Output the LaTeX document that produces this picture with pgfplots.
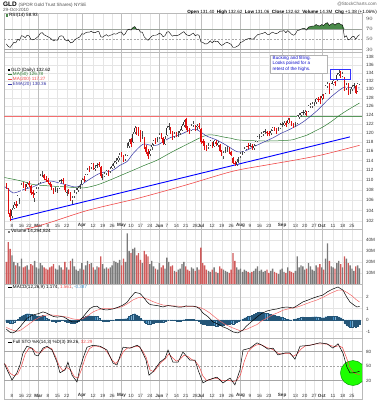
\documentclass[border=0pt]{standalone}
\usepackage{fontspec}
\setmainfont{Liberation Sans}
\usepackage{pgfplots}
\pgfplotsset{compat=1.18}
\usepackage{pgfplotstable}
\definecolor{emab}{HTML}{3535A5}
\definecolor{smag}{HTML}{2E7D32}
\definecolor{smar}{HTML}{F04A4A}
\definecolor{candr}{HTML}{E01010}
\definecolor{volr}{HTML}{D05A5A}
\definecolor{volg}{HTML}{7A7A7A}
\definecolor{histb}{HTML}{3E8FC8}
\definecolor{rsig}{HTML}{4A8A4A}
\definecolor{lbl}{HTML}{333333}
\definecolor{annb}{HTML}{1010CC}
\newcommand{\tf}{\fontsize{4.6}{5.2}\selectfont}

\pgfplotstableread{
t O H L C V Hs R
2 109.0 109.3 108.1 108.43 20 -0.15 41
3 108.2 108.3 103.4 103.75 38 -0.20 36
4 103.6 104.2 101.9 102.68 32 -0.28 34
5 102.9 104.5 102.5 104.04 26 -0.25 39
6 104.5 105.6 104.2 105.12 20 -0.15 44
7 105.3 105.8 104.5 104.92 17 -0.05 43
8 105.2 107.0 104.9 106.77 19 0.08 50
9 106.0 106.5 105.3 106.09 16 0.22 48
10 107.6 109.3 107.5 109.02 23 0.35 57
11 109.2 109.6 108.4 108.80 15 0.42 56
12 108.6 109.1 107.7 108.24 16 0.50 53
13 108.6 109.6 108.3 109.21 17 0.55 58
14 109.4 109.8 108.6 109.02 13 0.55 57
15 108.8 109.0 107.0 107.36 18 0.50 50
16 107.5 108.0 106.5 107.16 17 0.45 49
17 106.4 107.4 105.6 107.00 21 0.45 50
18 107.6 108.5 107.3 108.14 15 0.38 53
19 108.5 109.4 108.1 109.02 14 0.32 56
20 109.5 111.2 109.3 110.87 19 0.35 62
21 110.9 111.8 110.6 111.07 17 0.40 63
22 111.0 111.3 110.0 110.39 15 0.30 59
23 110.2 110.8 109.5 110.00 14 0.20 57
24 110.1 110.5 109.2 109.60 13 0.08 55
25 109.3 109.6 108.6 109.02 15 0.00 53
26 108.8 109.1 107.9 108.43 16 -0.08 50
27 108.0 108.4 107.2 107.75 18 -0.12 47
28 107.9 108.6 107.6 108.14 14 -0.15 49
29 107.8 108.3 107.3 107.95 13 -0.12 48
30 108.3 109.9 108.2 109.60 17 -0.06 55
31 109.7 110.3 109.4 109.90 15 -0.02 57
32 109.9 110.4 109.1 109.70 13 -0.05 56
33 108.9 109.1 107.6 107.95 20 -0.12 49
34 107.4 108.0 106.9 107.56 15 -0.15 47
35 107.7 108.2 107.2 107.65 13 -0.20 48
36 107.4 107.6 105.9 106.29 21 -0.25 43
37 106.0 106.9 105.2 106.48 23 -0.28 44
38 106.8 107.9 106.5 107.46 16 -0.25 48
39 107.5 108.3 107.2 108.04 13 -0.22 51
40 108.0 108.7 107.6 108.34 12 -0.10 53
41 108.5 109.2 108.1 108.73 14 0.00 55
42 109.2 110.4 109.0 110.09 19 0.12 61
43 110.3 110.8 109.5 109.90 13 0.22 60
44 110.0 111.2 109.7 110.97 17 0.30 63
45 111.3 112.5 111.0 112.14 21 0.35 64
46 112.3 112.9 111.7 112.24 18 0.38 64
47 112.6 113.6 112.3 113.22 19 0.36 66
48 113.3 113.6 112.1 112.44 15 0.32 63
49 112.3 113.0 111.8 112.55 13 0.30 63
50 112.8 113.5 112.4 113.02 16 0.30 65
51 113.3 113.8 112.7 113.10 15 0.15 65
52 112.6 112.8 110.4 110.87 25 -0.02 55
53 110.5 111.2 110.0 110.68 18 -0.10 54
54 110.9 111.7 110.6 111.26 14 -0.12 57
55 111.5 112.1 111.1 111.75 15 -0.12 59
56 111.5 112.0 110.9 111.46 14 -0.08 56
57 111.8 112.7 111.5 112.24 15 -0.05 58
58 112.5 113.2 112.2 112.83 17 -0.04 59
59 112.8 114.0 112.5 113.61 21 0.00 61
60 113.7 114.5 113.2 114.00 20 0.04 60
61 114.2 115.0 113.8 114.58 19 0.05 62
62 114.6 115.6 114.2 115.17 22 0.07 64
63 115.4 115.8 114.7 115.27 17 0.10 64
64 114.9 115.2 113.7 114.19 23 0.10 58
65 114.4 115.3 114.0 114.88 20 0.12 61
66 115.2 117.7 114.9 116.73 46 0.18 68
67 117.2 118.6 116.6 117.90 30 0.30 70
68 118.6 118.9 116.9 117.51 28 0.42 68
69 117.9 120.1 117.7 119.76 32 0.50 73
70 120.1 121.6 119.7 121.02 33 0.55 75
71 120.8 121.3 119.5 120.05 26 0.45 69
72 120.4 121.2 119.4 120.34 28 0.35 70
73 120.2 120.6 117.9 119.36 22 0.15 64
74 119.3 120.3 118.7 119.50 19 0.02 64
75 118.7 119.0 116.4 116.83 30 -0.15 55
76 116.8 117.3 115.4 115.85 27 -0.28 51
77 115.8 116.4 114.4 114.88 25 -0.35 48
78 115.4 116.5 115.0 116.05 18 -0.35 52
79 116.8 117.8 116.3 117.41 21 -0.30 56
80 117.6 118.5 117.2 118.10 16 -0.25 58
81 118.3 118.8 117.6 118.19 14 -0.22 58
82 118.4 119.0 117.9 118.58 13 -0.20 59
83 119.0 120.0 118.6 119.56 19 -0.18 62
84 119.6 120.0 118.6 119.07 15 -0.17 60
85 118.8 119.1 117.4 117.80 17 -0.15 55
86 117.6 119.2 117.3 118.58 14 -0.06 57
87 119.6 121.5 119.4 121.12 24 0.00 64
88 121.3 122.1 120.7 121.41 20 0.00 65
89 121.0 121.3 119.7 120.15 16 -0.02 60
90 120.0 120.4 118.5 119.07 17 -0.03 56
91 119.3 120.2 118.9 119.66 12 -0.05 58
92 119.8 120.2 119.0 119.46 11 -0.08 57
93 119.6 120.3 119.1 119.76 13 -0.08 58
94 120.0 120.8 119.6 120.34 14 -0.06 60
95 120.6 122.0 120.3 121.61 18 -0.03 63
96 121.8 122.9 121.4 122.49 20 0.03 65
97 123.0 123.3 120.6 121.02 16 0.05 60
98 121.0 121.5 120.2 120.73 13 0.04 58
99 120.5 121.1 119.8 120.44 12 0.05 57
100 120.7 121.9 120.3 121.51 15 0.04 60
101 121.7 122.6 121.3 122.00 14 0.05 62
102 121.4 121.8 120.5 120.93 12 0.00 57
103 121.2 122.0 120.6 121.51 15 -0.04 59
104 121.6 122.1 120.8 121.41 13 -0.12 58
105 120.8 121.0 117.6 118.00 33 -0.25 45
106 118.2 118.6 117.2 117.80 19 -0.33 44
107 118.0 118.3 116.3 116.83 17 -0.38 41
108 116.9 117.4 116.1 116.63 13 -0.40 41
109 116.9 117.7 116.5 117.22 12 -0.42 43
110 117.4 118.4 117.1 118.10 11 -0.45 47
111 117.6 117.9 116.6 116.92 13 -0.47 43
112 117.2 118.5 117.0 118.10 15 -0.47 47
113 118.0 118.4 117.2 117.61 11 -0.50 45
114 117.4 118.2 116.9 117.70 10 -0.50 46
115 117.4 117.6 115.8 116.14 16 -0.48 41
116 115.9 116.2 114.9 115.27 14 -0.45 38
117 114.9 116.0 114.4 115.66 13 -0.42 40
118 116.2 117.0 115.6 116.34 12 -0.38 43
119 116.4 117.1 115.9 116.63 11 -0.35 44
120 116.4 116.8 115.5 115.95 10 -0.33 42
121 115.8 116.1 114.9 115.27 13 -0.30 40
122 114.6 114.8 113.2 113.51 28 -0.32 34
123 113.6 114.0 112.8 113.31 21 -0.30 34
124 113.2 114.3 112.9 113.70 15 -0.22 36
125 114.0 114.7 113.5 114.19 13 -0.12 38
126 114.9 115.8 114.6 115.46 14 0.00 44
127 115.6 116.1 115.1 115.66 11 0.08 45
128 115.9 116.8 115.6 116.44 13 0.18 48
129 116.5 117.2 116.2 116.83 12 0.25 50
130 117.1 117.8 116.4 117.02 11 0.32 51
131 117.2 117.8 116.8 117.41 10 0.36 52
132 117.1 117.6 116.2 116.92 11 0.42 50
133 116.6 117.5 116.3 117.12 12 0.50 51
134 117.4 118.3 117.1 118.00 14 0.60 55
135 118.2 119.4 118.0 119.07 16 0.65 59
136 119.1 119.7 118.7 119.27 12 0.67 60
137 119.4 120.1 119.0 119.66 13 0.65 61
138 119.7 120.5 119.4 120.05 11 0.62 62
139 120.2 120.9 119.8 120.44 12 0.60 64
140 120.2 120.5 119.3 119.85 13 0.58 60
141 119.9 120.3 119.2 119.66 10 0.52 59
142 119.9 120.8 119.6 120.34 12 0.48 62
143 120.7 121.4 120.3 121.02 14 0.45 64
144 121.0 121.4 120.3 120.73 11 0.40 62
145 120.6 121.1 119.8 120.54 10 0.36 61
146 120.8 121.4 120.4 121.02 9 0.32 63
147 121.1 122.1 120.8 121.80 13 0.28 66
148 121.9 122.5 121.4 122.00 14 0.22 66
149 121.8 122.6 121.5 122.29 11 0.15 67
150 122.3 122.7 121.3 121.71 10 0.08 63
151 122.3 123.3 122.0 122.98 15 0.05 67
152 122.9 123.3 122.1 122.58 12 0.02 64
153 122.4 122.7 121.5 121.90 11 0.00 60
154 121.8 122.2 121.1 121.61 10 0.05 58
155 121.8 122.4 121.4 121.90 12 0.10 60
156 122.1 124.0 121.9 123.76 25 0.13 67
157 123.6 124.4 123.2 123.90 15 0.18 68
158 124.0 124.8 123.6 124.44 17 0.22 70
159 124.5 125.1 124.0 124.64 16 0.27 71
160 124.4 125.2 124.0 124.73 13 0.25 71
161 124.8 125.0 123.7 124.34 14 0.22 68
162 125.0 126.3 124.8 126.00 19 0.25 74
163 126.0 126.8 125.6 126.29 16 0.25 75
164 126.1 126.9 125.7 126.49 13 0.27 76
165 126.5 127.1 126.1 126.68 12 0.28 76
166 126.9 128.0 126.6 127.66 17 0.28 79
167 127.8 128.1 127.0 127.50 15 0.26 77
168 127.7 128.5 126.6 127.56 18 0.22 76
169 127.9 128.8 127.6 128.44 15 0.20 79
170 128.5 128.9 127.7 128.20 13 0.20 77
171 129.1 131.0 129.0 130.78 23 0.28 81
172 130.9 131.9 130.4 131.37 37 0.33 82.5
173 131.3 131.6 129.0 130.10 21 0.32 77
174 130.2 131.5 129.8 131.27 16 0.32 80
175 131.4 132.2 131.0 131.96 15 0.33 81
176 131.8 132.1 130.9 131.47 14 0.30 78
177 132.2 134.0 132.0 133.61 19 0.30 81
178 133.8 135.0 133.2 134.10 21 0.27 82
179 134.0 134.5 132.8 133.50 18 0.20 79
180 133.3 134.2 132.9 133.71 15 0.05 78
181 132.9 133.0 129.6 130.20 25 -0.30 54
182 130.3 131.6 129.8 130.98 23 -0.40 57
183 131.3 131.6 128.6 129.32 19 -0.55 49
184 129.5 130.2 128.8 129.50 17 -0.62 50
185 130.0 131.0 129.7 130.69 14 -0.60 55
186 130.9 131.6 130.4 131.00 12 -0.55 56
187 130.8 131.0 128.8 129.12 16 -0.60 50
188 129.6 131.5 129.4 131.24 17 -0.50 56
189 131.40 132.62 131.06 132.62 14.29 -0.387 58.93
}\prices

\pgfplotstableread{
t M
2 -0.80
4 -1.08
5.5 -1.13
7 -1.0
9 -0.65
11 -0.25
13 0.15
16 0.43
19 0.55
21.4 0.7
23 0.62
25 0.45
27 0.30
29 0.25
31 0.3
32.5 0.25
34 0.1
36.8 -0.17
39.4 -0.17
41 0.0
42.6 0.26
44.5 0.65
46.3 1.0
48 1.15
50 1.2
51.6 1.0
53.5 0.9
55.3 0.87
58.5 0.96
61 1.1
63.8 1.3
66 1.55
67.5 1.9
70.1 2.4
72.8 2.3
74.5 2.0
76.5 1.57
78 1.35
79.6 1.3
82 1.25
84.9 1.13
87.5 1.25
90.2 1.2
93 1.12
95.5 1.13
97 1.22
99.2 1.2
101 1.2
102.9 1.13
104.5 0.95
106.1 0.6
109 0.25
111.4 -0.17
114 -0.35
116.7 -0.6
119 -0.75
122 -1.04
124.6 -1.13
127.3 -0.87
129 -0.55
131 -0.26
134.7 0.26
137 0.55
140 0.78
143 0.9
145.3 0.96
148 1.08
150.6 1.13
153.8 1.04
156 1.25
159 1.57
162 1.75
164.3 1.9
167 2.05
169.6 2.17
172 2.45
174.9 2.7
177.6 2.87
180.2 2.6
182 2.05
183.9 1.57
186 1.3
187.6 1.13
189 1.174
}\macd

\pgfplotstableread{
t S
2 -0.65
4 -0.8
6 -0.92
8 -0.98
10 -0.85
12 -0.6
14.5 -0.3
17 0.0
19.8 0.26
22 0.4
25.1 0.45
28 0.4
30.4 0.35
34 0.25
37.3 0.09
40 0.03
42.6 0.12
45 0.35
47.9 0.7
50 0.85
53.2 1.0
56 1.0
58.5 1.0
61 1.05
63.8 1.2
66 1.4
69.1 1.75
72 1.95
74.3 1.95
77 1.8
79.6 1.6
82 1.45
84.9 1.3
88 1.25
92.4 1.2
96 1.17
99.2 1.15
102 1.15
104.5 1.08
107 0.9
109.8 0.6
112 0.3
115.1 -0.1
118 -0.4
122 -0.7
126 -0.95
129.4 -0.8
132 -0.6
134.7 -0.4
137 -0.1
140 0.17
143 0.45
145.3 0.6
148.5 0.85
152.2 1.0
156 1.12
159 1.3
163 1.55
166.5 1.74
170 2.0
173.3 2.3
177.6 2.6
180 2.6
182.3 2.4
185 2.1
187 1.8
189 1.561
}\signal

\pgfplotstableread{
t K
1 55
2.4 42
5.0 21
7.6 36
9.2 52
10.8 77
12.9 91
15.6 87
17.2 73
18.8 71
21.4 87
23.5 91
26.2 83
28.8 58
30.4 36
33.1 42
34.6 58
36.8 31
39.4 17
41.0 46
42.6 66
44.7 89
47.9 93
51.6 91
55.3 83
58.5 56
60.6 52
63.8 89
67.5 87
71.2 93
72.8 89
76.0 62
77.5 31
79.6 38
83.3 58
86.0 66
87.6 83
90.2 58
92.9 58
95.5 79
99.2 62
101.9 62
103.5 42
106.1 15
108.8 21
113.5 27
116.7 15
120.4 25
123.0 11
125.7 42
127.3 83
131.0 87
134.7 98
137.4 93
140.5 85
143.2 87
145.8 73
149.5 77
152.2 77
154.8 64
157.5 91
162.8 93
168.0 98
171.8 96
174.9 87
177.6 96
180.2 77
182.3 48
183.9 36
185.5 36
188.2 38
189 39.26
}\stok

\pgfplotstableread{
t D
1 55
2 50
4 35
6 30
8 33
10 50
12 75
14 87
16 86
18 77
20 77
22 86
24 89
26 86
28 70
30 50
32 40
34 47
36 42
38 28
40 25
42 45
44 70
46 86
48 91
50 91
52 89
54 86
56 75
58 62
60 55
62 65
64 80
66 87
68 88
70 90
72 91
74 82
76 68
78 42
80 38
82 48
84 58
86 64
88 75
90 67
92 60
94 64
96 72
98 70
100 64
102 60
104 50
106 30
108 20
110 22
112 25
114 24
116 20
118 20
120 20
122 18
124 20
126 32
128 60
130 80
132 88
134 93
136 95
138 92
140 88
142 86
144 82
146 76
148 75
150 76
152 76
154 70
156 75
158 85
160 91
162 93
164 94
166 96
168 96
170 96
172 95
174 92
176 90
178 92
180 88
182 68
184 46
186 36
188 33
189 32.29
}\stod

\pgfplotstableread{
t P
1 108.6
2.35 108.4
4 107.8
5.5 107.4
8 107.6
12 108.2
16.1 108.6
20 109.3
25.1 109.8
30 109.4
34.1 109.0
39.4 108.6
45 109.9
51.6 111.4
58 111.9
62 113.0
65.9 113.8
69.1 115.5
74.3 117.5
78 117.3
81.8 117.3
88.6 118.9
94 119.6
99.2 120.6
102 120.8
104.5 120.3
108 119.3
113.5 118.4
118.8 117.2
124.1 115.9
128 116.0
134.7 117.3
143.2 118.9
147 119.8
152.2 120.8
159 122.4
166.5 125.0
173.3 128.0
180.2 130.4
183 130.5
185.5 130.3
189 130.36
}\ema

\pgfplotstableread{
t P
1 110.5
2.35 110.4
10 109.8
16.1 109.1
25 108.8
34.1 108.6
42.6 108.4
50 109.0
56.9 110.0
63 111.0
69.1 112.0
75 113.0
81.8 114.1
90 115.9
99.2 117.8
104 118.8
108.2 119.5
112 119.5
116.7 119.1
121 118.8
125.7 118.4
140 118.2
152.2 118.4
156 118.8
161.2 119.5
165 120.3
169.6 121.3
174 122.5
178.6 124.0
184 125.5
189 126.78
}\smaf

\pgfplotstableread{
t P
1 99.7
15 100.7
25 101.7
45 104.0
69 106.1
85 107.7
99 109.2
122 111.8
140 113.1
156 114.2
170 115.3
189 117.27
}\smat

\pgfplotsset{
  panel/.style={
    scale only axis, width=358bp, xmin=0.76, xmax=190.3,
    axis line style={gray!55, line width=0.4bp},
    major tick length=0pt, minor tick length=0pt,
    xtick={5,10,14,24,29,34,39,48,53,58,68,73,78,87,92,97,102,111,116,121,131,136,141,151,155,160,165,175,180,185},
    xticklabel={},
    extra x ticks={19,42,63,83,105,126,148,169},
    extra x tick style={grid=major, major grid style={gray!50, line width=0.35bp}},
    xmajorgrids, ymajorgrids,
    major grid style={gray!20, line width=0.3bp},
    yticklabel pos=right,
    ticklabel style={font=\tf, text=lbl},
    yticklabel style={anchor=west, xshift=0.5bp},
  },
  nodatelabels/.style={
    xticklabels={}, extra x tick labels={},
    xticklabel style={anchor=south, yshift=0.5bp},
  },
  datelabels/.style={
    xticklabels={8,16,22,8,15,22,,12,19,26,10,17,24,7,14,21,28,12,19,26,9,16,23,,13,20,27,11,18,25},
    extra x tick labels={\textbf{Mar},\textbf{Apr},\textbf{May},\textbf{Jun},\textbf{Jul},\textbf{Aug},\textbf{Sep},\textbf{Oct}},
    xticklabel style={anchor=south, yshift=0.2bp, inner sep=1bp},
  },
  candle/.style={draw=none, mark=none, forget plot},
}

\begin{document}
\begin{tikzpicture}
\useasboundingbox (0,0) rectangle (379bp,400bp);

% ---------- RSI ----------
\begin{axis}[panel, nodatelabels, at={(4bp,348bp)}, anchor=south west, height=39bp,
  ymin=25.1, ymax=101.6, ytick={30,50,70,90}, ymajorgrids=false]
\addplot[gray!70, line width=0.4bp] coordinates {(0.76,70) (190.3,70)};
\addplot[gray!70, line width=0.4bp] coordinates {(0.76,30) (190.3,30)};
\addplot[gray!70, line width=0.4bp, dash pattern=on 2bp off 1.5bp] coordinates {(0.76,50) (190.3,50)};
\addplot[fill=rsig, draw=none] table[x=t, y expr={max(\thisrow{R},70)}] {\prices} -- (axis cs:189,70) -- (axis cs:2,70) -- cycle;
\addplot[black, line width=0.4bp] table[x=t, y=R] {\prices};
\end{axis}

% ---------- Price ----------
\begin{axis}[panel, datelabels, at={(4bp,171bp)}, anchor=south west, height=177bp,
  ymode=log, ymin=100.5, ymax=139.3,
  ytick={102,104,106,108,110,112,114,116,118,120,122,124,126,128,130,132,134,136,138},
  yticklabels={102,104,106,108,110,112,114,116,118,120,122,124,126,128,130,132,134,136,138}]
\addplot[smar!80, line width=0.6bp] coordinates {(0.76,123.6) (152.2,123.6)};
\addplot[smag!80, line width=0.6bp] coordinates {(152.2,123.6) (190.3,123.6)};
\addplot[smar, line width=0.6bp, smooth] table[x=t, y=P] {\smat};
\addplot[blue, line width=0.9bp] coordinates {(3.94,102.2) (183.9,119.1)};
\addplot[smag, line width=0.5bp, smooth] table[x=t, y=P] {\smaf};
\addplot[emab, line width=0.5bp, smooth] table[x=t, y=P] {\ema};
% wicks
\addplot[candle, restrict expr to domain={\thisrow{C}-\thisrow{O}}{0:1000},
  error bars/.cd, y dir=both, y explicit, error mark=none,
  error bar style={draw=black!70, line width=0.45bp}]
  table[x=t, y=C, y error plus expr=\thisrow{H}-\thisrow{C}, y error minus expr=\thisrow{C}-\thisrow{L}] {\prices};
\addplot[candle, restrict expr to domain={\thisrow{C}-\thisrow{O}}{-1000:-0.0001},
  error bars/.cd, y dir=both, y explicit, error mark=none,
  error bar style={draw=candr, line width=0.45bp}]
  table[x=t, y=C, y error plus expr=\thisrow{H}-\thisrow{C}, y error minus expr=\thisrow{C}-\thisrow{L}] {\prices};
% bodies
\addplot[candle, restrict expr to domain={\thisrow{C}-\thisrow{O}}{-1000:-0.0001},
  error bars/.cd, y dir=plus, y explicit, error mark=none,
  error bar style={draw=candr, line width=1.3bp}]
  table[x=t, y=C, y error plus expr=\thisrow{O}-\thisrow{C}] {\prices};
\addplot[candle, restrict expr to domain={\thisrow{C}-\thisrow{O}}{0:1000},
  error bars/.cd, y dir=plus, y explicit, error mark=none,
  error bar style={draw=black!80, line width=1.35bp}]
  table[x=t, y=O, y error plus expr=\thisrow{C}-\thisrow{O}] {\prices};
\addplot[candle, restrict expr to domain={\thisrow{C}-\thisrow{O}}{0.25:1000},
  error bars/.cd, y dir=plus, y explicit, error mark=none,
  error bar style={draw=white, line width=0.5bp}]
  table[x=t, y=O, y error plus expr=\thisrow{C}-\thisrow{O}] {\prices};
\end{axis}

% ---------- Volume ----------
\begin{axis}[panel, nodatelabels, at={(4bp,116bp)}, anchor=south west, height=55bp,
  ymin=0, ymax=50, ytick={10,20,30,40}, yticklabels={10M,20M,30M,40M}]
\addplot[ybar, bar width=0.72, bar shift=0pt, fill=volg, draw=none,
  restrict expr to domain={\thisrow{C}-\thisrow{O}}{0:1000}] table[x=t, y=V] {\prices};
\addplot[ybar, bar width=0.72, bar shift=0pt, fill=volr, draw=none,
  restrict expr to domain={\thisrow{C}-\thisrow{O}}{-1000:-0.0001}] table[x=t, y=V] {\prices};
\end{axis}

% ---------- MACD ----------
\begin{axis}[panel, nodatelabels, at={(4bp,62bp)}, anchor=south west, height=54bp,
  ymin=-1.57, ymax=3.13, ytick={-1,0,1,2}, yticklabels={-1,0,1,2}]
\addplot[ybar, bar width=0.7, bar shift=0pt, fill=histb, draw=histb!60!black, line width=0.1bp] table[x=t, y=Hs] {\prices};
\addplot[smar!85, line width=0.5bp] table[x=t, y=S] {\signal};
\addplot[black, line width=0.5bp] table[x=t, y=M] {\macd};
\end{axis}

% ---------- STO ----------
\begin{axis}[panel, datelabels, at={(4bp,1bp)}, anchor=south west, height=61bp,
  ymin=-18.3, ymax=108, ytick={20,50,80}, yticklabels={20,50,80}, ymajorgrids=false]
\addplot[gray!70, line width=0.4bp] coordinates {(0.76,80) (190.3,80)};
\addplot[gray!70, line width=0.4bp] coordinates {(0.76,20) (190.3,20)};
\addplot[gray!70, line width=0.4bp, dash pattern=on 2bp off 1.5bp] coordinates {(0.76,50) (190.3,50)};
\fill[green!85!lime, draw=green!55!black, line width=0.4bp] (axis cs:185.5,35.5) circle[radius=12.5bp];
\addplot[smar, line width=0.5bp] table[x=t, y=D] {\stod};
\addplot[black, line width=0.5bp] table[x=t, y=K] {\stok};
\end{axis}

% ---------- texts ----------
\node[anchor=west, inner sep=0] at (3bp,395.5bp) {\fontsize{6.5}{7}\selectfont\textbf{GLD} \tf\textcolor{black!70}{(SPDR Gold Trust Shares) NYSE}};
\node[anchor=west, inner sep=0] at (3bp,390.5bp) {\tf\textcolor{black!70}{29-Oct-2010}};
\node[anchor=east, inner sep=0] at (377bp,395.5bp) {\tf\textcolor{black!60}{@StockCharts.com}};
\node[anchor=east, inner sep=0] at (377bp,387.3bp) {\tf \textbf{Open} 131.40 \ \textbf{High} 132.62 \ \textbf{Low} 131.06 \ \textbf{Close} 132.62 \ \textbf{Volume} 14.3M \ \textbf{Chg} +1.38 (+1.06\%)};
\node[anchor=west, inner sep=0] at (6bp,384.5bp) {\tf\textcolor{rsig}{\rule{2.2bp}{2.2bp}}\,RSI(14) 58.93};

\node[anchor=west, inner sep=0] at (8bp,330bp) {\tf\rule{2.2bp}{2.2bp}\,GLD (Daily) 132.62};
\node[anchor=west, inner sep=0] at (8bp,325.3bp) {\tf\textcolor{smag}{\rule[0.9bp]{4bp}{0.6bp}\,MA(50) 126.78}};
\node[anchor=west, inner sep=0] at (8bp,320.6bp) {\tf\textcolor{smar}{\rule[0.9bp]{4bp}{0.6bp}\,MA(200) 117.27}};
\node[anchor=west, inner sep=0] at (8bp,315.9bp) {\tf\textcolor{emab}{\rule[0.9bp]{4bp}{0.6bp}\,EMA(20) 130.36}};

\node[anchor=west, inner sep=0] at (8bp,168.5bp) {\tf\textcolor{volg}{\rule{2.2bp}{2.2bp}}\,Volume 14,294,824};
\node[anchor=west, inner sep=0] at (8bp,112.5bp) {\tf\rule[0.9bp]{4bp}{0.6bp}\,MACD(12,26,9) 1.174, \textcolor{smar}{1.561}, \textcolor{histb}{-0.387}};
\node[anchor=west, inner sep=0] at (8bp,57.5bp) {\tf\rule[0.9bp]{4bp}{0.6bp}\,Full STO \%K(14,3) \%D(3) 39.26, \textcolor{smar}{32.29}};

\draw[gray!60, fill=white, line width=0.4bp] (270bp,345bp) rectangle (327bp,327bp);
\node[anchor=west, inner sep=0, text=annb] at (272.5bp,341.5bp) {\tf Bucking and filling.};
\node[anchor=west, inner sep=0, text=annb] at (272.5bp,336.3bp) {\tf Looks poised for a};
\node[anchor=west, inner sep=0, text=annb] at (272.5bp,331bp) {\tf retest of the highs.};
\draw[blue!80, line width=0.7bp] (330bp,330.5bp) rectangle (350bp,321bp);
\end{tikzpicture}
\end{document}
